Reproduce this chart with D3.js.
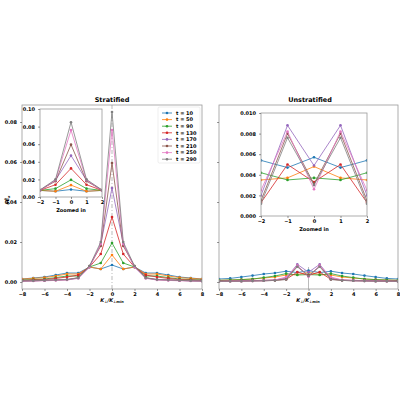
<!DOCTYPE html><html><head><script src="https://cdn.jsdelivr.net/npm/d3@7"></script>
<style>body{margin:0;background:#fff}text{font-family:"DejaVu Sans";font-weight:bold}</style></head><body><svg id="c" width="400" height="400"></svg>
<script>
const times=[10,50,90,130,170,210,250,290];
const colors=["#1f77b4","#ff7f0e","#2ca02c","#d62728","#9467bd","#8c564b","#e377c2","#7f7f7f"];
const kx=[-8,-7,-6,-5,-4,-3,-2,-1,0,1,2,3,4,5,6,7,8];
// half profiles for k=0..8, mirrored
const stratHalf=[
[0.0085,0.0065,0.0075,0.0045,0.0045,0.0035,0.0025,0.0020,0.0015],
[0.0135,0.0065,0.0075,0.0040,0.0040,0.0030,0.0022,0.0018,0.0015],
[0.0195,0.0095,0.0075,0.0030,0.0030,0.0022,0.0015,0.0012,0.0010],
[0.0325,0.0140,0.0075,0.0035,0.0025,0.0018,0.0012,0.0010,0.0008],
[0.0470,0.0190,0.0075,0.0020,0.0012,0.0010,0.0008,0.0006,0.0005],
[0.0595,0.0180,0.0080,0.0022,0.0012,0.0010,0.0008,0.0006,0.0005],
[0.0760,0.0190,0.0075,0.0018,0.0010,0.0008,0.0006,0.0005,0.0004],
[0.0850,0.0200,0.0080,0.0020,0.0012,0.0010,0.0008,0.0006,0.0005]];
const unstHalf=[
[0.0057,0.0047,0.0054,0.0045,0.0040,0.0032,0.0025,0.0018,0.0015],
[0.0048,0.0037,0.0035,0.0025,0.0020,0.0015,0.0012,0.0010,0.0008],
[0.0037,0.0035,0.0042,0.0030,0.0022,0.0015,0.0012,0.0010,0.0008],
[0.0033,0.0050,0.0013,0.0010,0.0008,0.0007,0.0006,0.0005,0.0004],
[0.0049,0.0088,0.0020,0.0010,0.0008,0.0007,0.0006,0.0005,0.0004],
[0.0031,0.0080,0.0015,0.0008,0.0006,0.0005,0.0004,0.0004,0.0003],
[0.0026,0.0082,0.0025,0.0010,0.0006,0.0005,0.0004,0.0004,0.0003],
[0.0030,0.0076,0.0012,0.0008,0.0006,0.0005,0.0004,0.0004,0.0003]];
const mirror=h=>kx.map(k=>h[Math.abs(k)]);
const strat=stratHalf.map(mirror), unst=unstHalf.map(mirror);
const svg=d3.select("#c");
function panel(x0,x1,y0,y1,xd,yd,data,opt){
  const g=svg.append("g");
  const x=d3.scaleLinear().domain(xd).range([x0,x1]);
  const y=d3.scaleLinear().domain(yd).range([y1,y0]);
  g.append("rect").attr("x",x0).attr("y",y0).attr("width",x1-x0).attr("height",y1-y0).attr("fill","#fff");
  const cp="cp"+Math.round(x0)+Math.round(y0);
  g.append("clipPath").attr("id",cp).append("rect").attr("x",x0).attr("y",y0).attr("width",x1-x0).attr("height",y1-y0);
  const inner=g.append("g").attr("clip-path",`url(#${cp})`);
  if(opt.vline) inner.append("line").attr("x1",x(0)).attr("x2",x(0)).attr("y1",opt.vline==="full"?y0:y(0.0075)).attr("y2",y1).attr("stroke","#aaa").attr("stroke-width",0.8).attr("stroke-dasharray",opt.vline==="full"?"4,2,1,2":null);
  const line=d3.line().x((d,i)=>x(kx[i])).y(d=>y(d));
  data.forEach((s,j)=>{
    inner.append("path").attr("d",line(s)).attr("fill","none").attr("stroke",colors[j]).attr("stroke-width",0.8);
    inner.selectAll(null).data(s).join("circle").attr("cx",(d,i)=>x(kx[i])).attr("cy",d=>y(d)).attr("r",1.3).attr("fill",colors[j]);
  });
  g.append("rect").attr("x",x0).attr("y",y0).attr("width",x1-x0).attr("height",y1-y0).attr("fill","none").attr("stroke","#999").attr("stroke-width",0.8);
  const xa=g.append("g").attr("transform",`translate(0,${y1})`).call(d3.axisBottom(x).tickValues(opt.xt).tickSize(2).tickPadding(1.5).tickFormat(d=>d<0?"−"+(-d):d));
  const ya=g.append("g").attr("transform",`translate(${x0},0)`).call(d3.axisLeft(y).tickValues(opt.yt).tickSize(2).tickFormat(opt.yf));
  [xa,ya].forEach(a=>{a.select(".domain").remove();a.selectAll("text").attr("font-size",5).attr("font-weight","bold").attr("font-family","DejaVu Sans");a.selectAll("line").attr("stroke","#333").attr("stroke-width",0.5)});
  return {g,x,y};
}
const yMain=[-0.0035,0.0885];
const yt=[0,0.02,0.04,0.06,0.08];
const xt=[-8,-6,-4,-2,0,2,4,6,8];
panel(22,202,105,289,[-8,8],yMain,strat,{vline:"full",xt,yt,yf:d3.format(".2f")});
panel(219,398,105,289,[-8,8],yMain,unst,{vline:"short",xt,yt,yf:()=>""});
panel(40,102,109,197,[-2,2],[0,0.1],strat,{xt:[-2,-1,0,1,2],yt:[0,0.02,0.04,0.06,0.08,0.1],yf:d3.format(".2f")});
panel(261,367,113,216,[-2,2],[0,0.01],unst,{xt:[-2,-1,0,1,2],yt:[0,0.002,0.004,0.006,0.008,0.01],yf:d3.format(".3f")});
const T=(x,y,t,s,a)=>svg.append("text").attr("x",x).attr("y",y).attr("font-size",s).attr("text-anchor",a||"middle").text(t);
T(112,102,"Stratified",6.5);T(310,102,"Unstratified",6.5);
T(71,212,"Zoomed in",5);T(314,231,"Zoomed in",5);
function xl(cx){const t=svg.append("text").attr("x",cx).attr("y",302).attr("font-size",5).attr("text-anchor","middle").attr("font-style","italic");
 t.append("tspan").text("K");t.append("tspan").attr("font-size",3.5).attr("dy",1).text("⊥");t.append("tspan").attr("dy",-1).text("/K");t.append("tspan").attr("font-size",3.5).attr("dy",1).text("⊥min");}
xl(112);xl(308);
const yl=svg.append("text").attr("transform","translate(9,200) rotate(-90)").attr("font-size",5).attr("text-anchor","middle").attr("font-style","italic");
yl.append("tspan").text("κĒ");yl.append("tspan").attr("font-size",3.5).attr("dy",1).text("κ");
const lg=svg.append("g");
lg.append("rect").attr("x",158).attr("y",107).attr("width",42).attr("height",56).attr("fill","#fff").attr("stroke","#ddd").attr("stroke-width",0.5).attr("rx",1.5);
times.forEach((t,i)=>{const yy=113+i*6.6;
 lg.append("line").attr("x1",162).attr("x2",172).attr("y1",yy).attr("y2",yy).attr("stroke",colors[i]).attr("stroke-width",0.8);
 lg.append("circle").attr("cx",167).attr("cy",yy).attr("r",1.3).attr("fill",colors[i]);
 lg.append("text").attr("x",176).attr("y",yy+1.8).attr("font-size",5).text("t = "+t);});
</script></body></html>
